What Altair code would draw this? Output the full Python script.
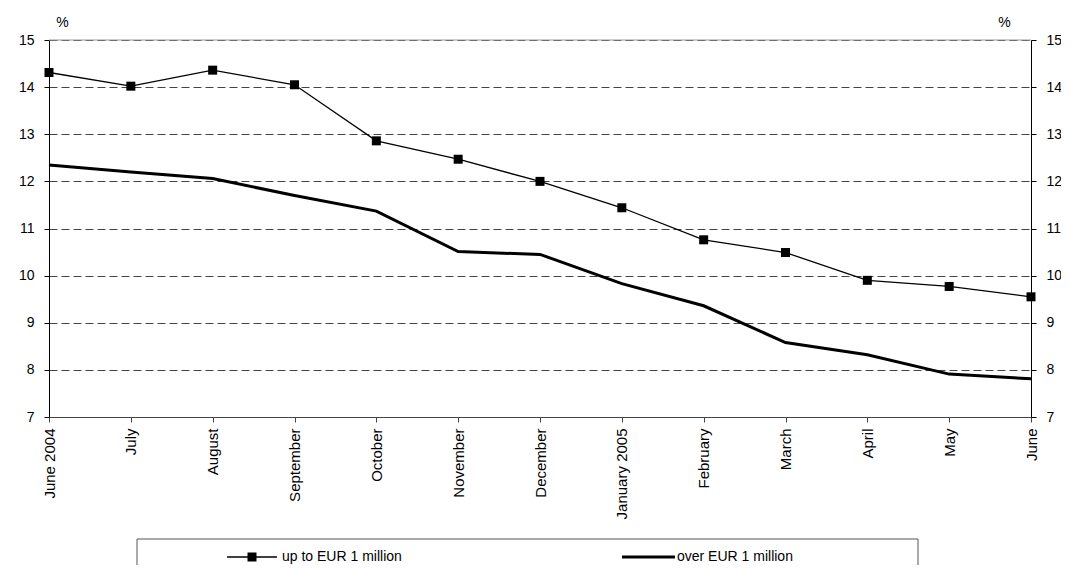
import altair as alt
import pandas as pd

months = ["June 2004", "July", "August", "September", "October", "November",
          "December", "January 2005", "February", "March", "April", "May", "June"]
up_to_1m = [14.31, 14.02, 14.36, 14.05, 12.86, 12.47, 12.0, 11.44, 10.76, 10.49, 9.9, 9.77, 9.55]
over_1m = [12.35, 12.2, 12.06, 11.7, 11.37, 10.51, 10.45, 9.83, 9.36, 8.58, 8.32, 7.91, 7.81]
y_ticks = [7, 8, 9, 10, 11, 12, 13, 14, 15]
legend_labels = ["up to EUR 1 million", "over EUR 1 million"]

df = pd.DataFrame({"month": months, "up": up_to_1m, "over": over_1m})

FONT = "Liberation Sans"
W, H = 982, 377

x_enc = alt.X(
    "month:O", sort=months, scale=alt.Scale(type="point", padding=0),
    axis=alt.Axis(title=None, labelAngle=-90, labelFontSize=15, labelFont=FONT,
                  labelColor="black", tickSize=5, labelPadding=6, domainColor="#444",
                  tickColor="#444", grid=False, labelAlign="right", labelBaseline="middle"))
y_scale = alt.Scale(domain=[7, 15], nice=False, zero=False)

common_axis = dict(values=y_ticks, title="%", titleAngle=0, titleY=-18, titleAlign="center",
                   titleBaseline="middle", titleFont=FONT, titleFontSize=14,
                   titleFontWeight="normal", titleColor="black", labelFont=FONT,
                   labelFontSize=14, labelColor="black", tickSize=5, labelPadding=10,
                   domainColor="black", tickColor="black")
left_axis = alt.Axis(orient="left", titleX=13, grid=True, gridDash=[8, 4],
                     gridColor="#444", gridWidth=1, **common_axis)
right_axis = alt.Axis(orient="right", titleX=-27, grid=False, **common_axis)

base = alt.Chart(df)

over_line = base.mark_line(color="black", strokeWidth=3).encode(
    x=x_enc, y=alt.Y("over:Q", scale=y_scale, axis=left_axis))

up_line = base.mark_line(
    color="black", strokeWidth=1.3,
    point=alt.OverlayMarkDef(shape="square", filled=True, size=81, color="black", opacity=1)
).encode(x=x_enc, y=alt.Y("up:Q", scale=y_scale, axis=right_axis))

top_rule = alt.Chart(pd.DataFrame({"v": [15]})).mark_rule(color="#999", strokeWidth=1).encode(
    y=alt.Y("v:Q", scale=y_scale, axis=None))

# legend box (drawn by hand, below the plot)
LY = 517
leg_box = alt.Chart(pd.DataFrame({"label": legend_labels[:1]})).mark_rect(
    fill="white", stroke="#555", strokeWidth=1).encode(
    x=alt.value(88), x2=alt.value(869), y=alt.value(499), y2=alt.value(570))
leg_rule1 = alt.Chart(pd.DataFrame({"label": legend_labels[:1]})).mark_rule(
    color="black", strokeWidth=1.3).encode(x=alt.value(178), x2=alt.value(228), y=alt.value(LY))
leg_sq1 = alt.Chart(pd.DataFrame({"label": legend_labels[:1]})).mark_point(
    shape="square", filled=True, size=81, color="black", opacity=1).encode(
    x=alt.value(203), y=alt.value(LY))
leg_txt1 = alt.Chart(pd.DataFrame({"label": legend_labels[:1]})).mark_text(
    align="left", baseline="middle", font=FONT, fontSize=14, color="black").encode(
    text="label:N", x=alt.value(233), y=alt.value(LY))
leg_rule2 = alt.Chart(pd.DataFrame({"label": legend_labels[1:]})).mark_rule(
    color="black", strokeWidth=3).encode(x=alt.value(573), x2=alt.value(626), y=alt.value(LY))
leg_txt2 = alt.Chart(pd.DataFrame({"label": legend_labels[1:]})).mark_text(
    align="left", baseline="middle", font=FONT, fontSize=14, color="black").encode(
    text="label:N", x=alt.value(628), y=alt.value(LY))

chart = alt.layer(
    top_rule, over_line, up_line, leg_box, leg_rule1, leg_sq1, leg_txt1, leg_rule2, leg_txt2
).resolve_axis(y="independent").properties(
    width=W, height=H, autosize="none",
    padding={"left": 41, "top": 32, "right": 30, "bottom": 148},
    background="white"
).configure_view(stroke=None)

chart.save("out.html", embed_options={"renderer": "svg", "actions": False})
